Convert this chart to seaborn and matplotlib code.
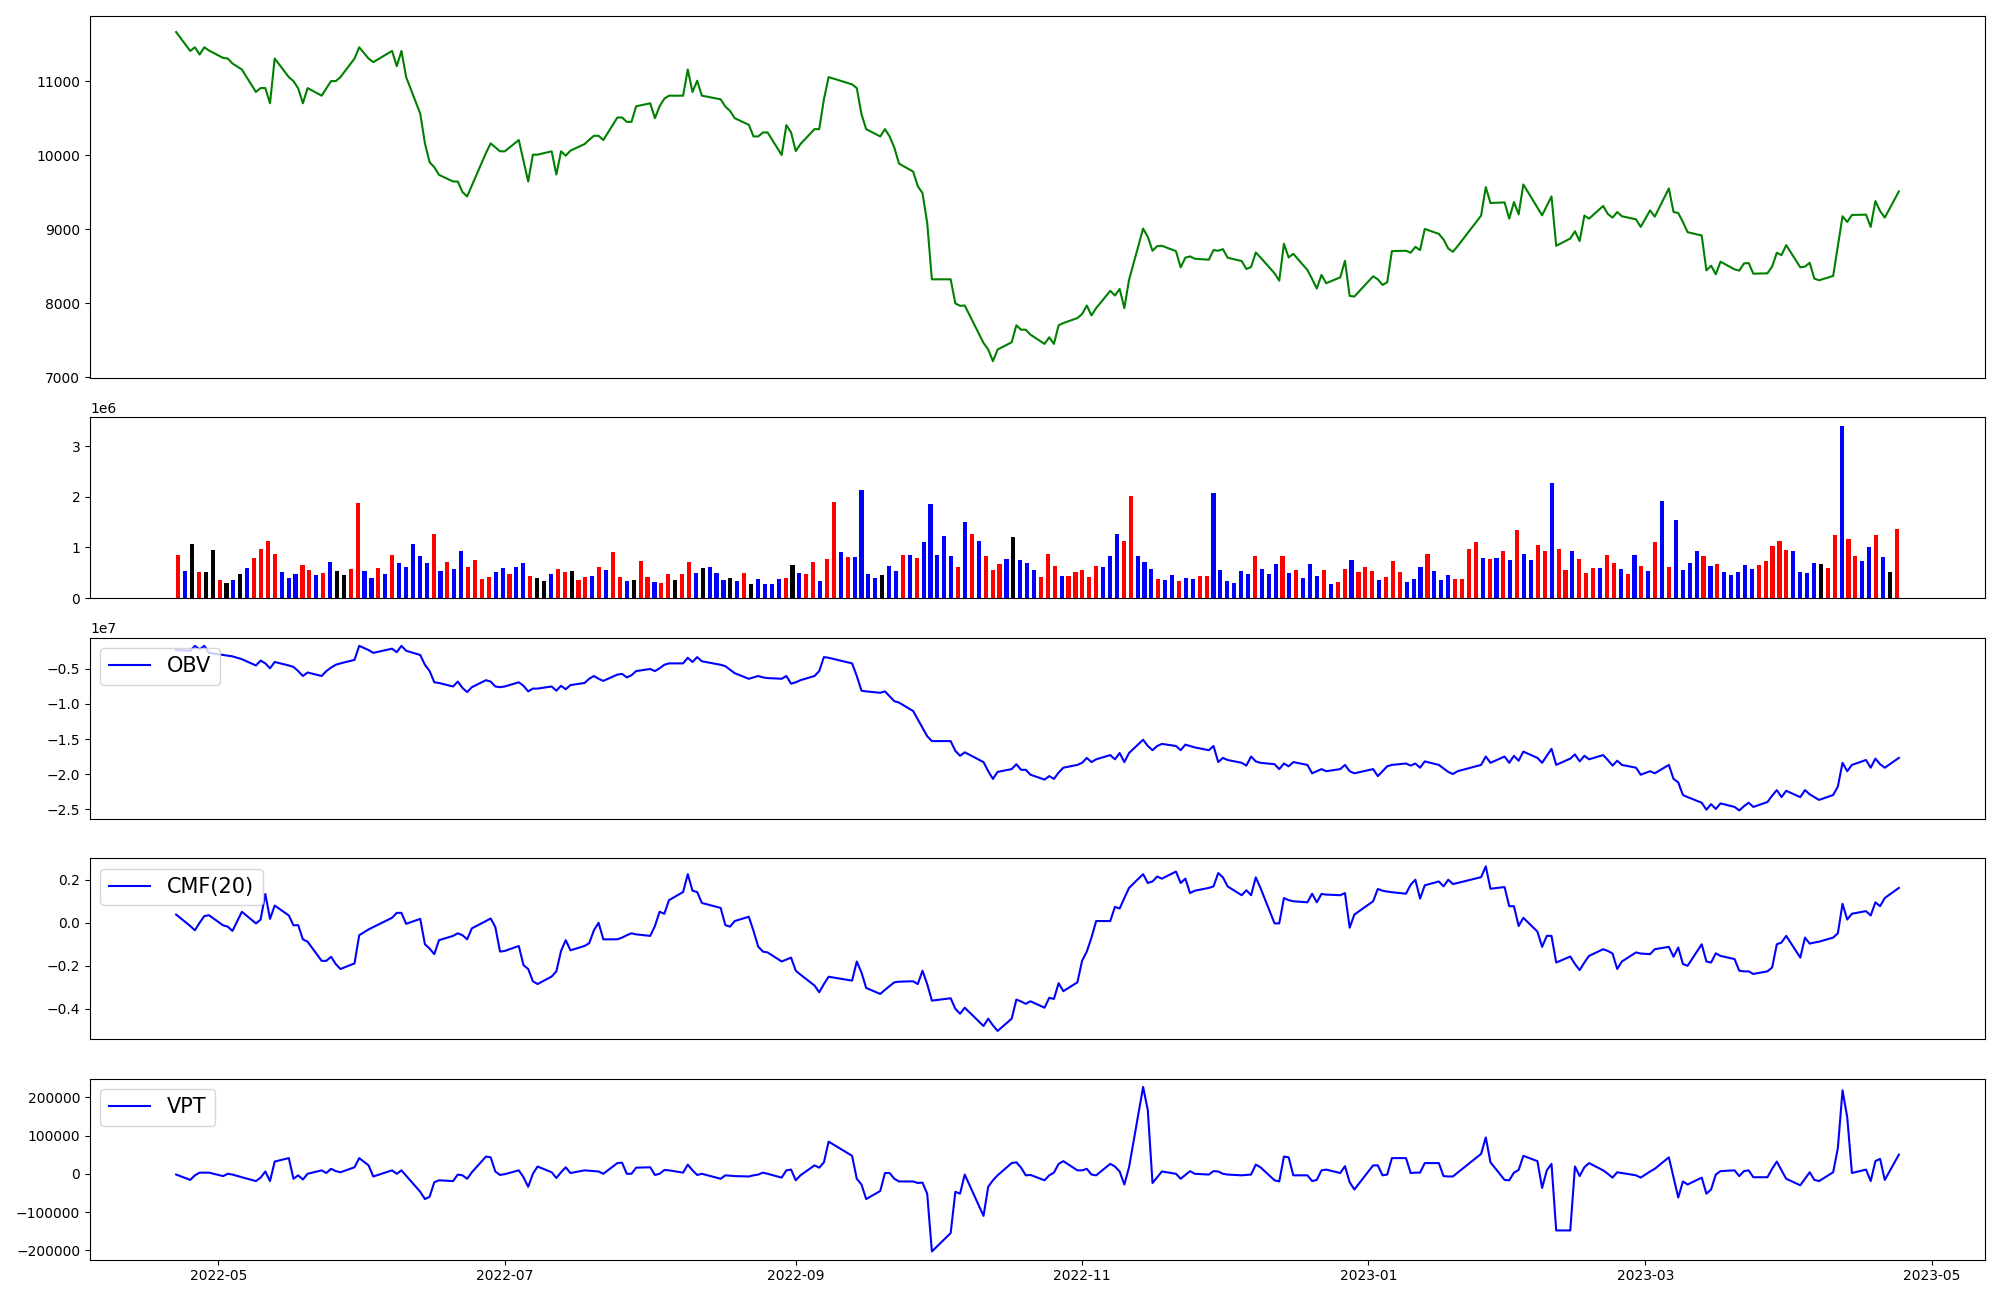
import matplotlib
matplotlib.use("Agg")
import matplotlib.pyplot as plt
import matplotlib.dates as mdates
import seaborn as sns
import pandas as pd
import numpy as np

# KRX trading days from 2022-04-22 to 2023-04-24 (market holidays removed)
holidays = ["2022-05-05", "2022-06-01", "2022-06-06", "2022-08-15", "2022-09-09",
            "2022-09-12", "2022-10-03", "2022-10-10", "2022-12-30", "2023-01-23",
            "2023-01-24", "2023-03-01"]
dates = pd.bdate_range("2022-04-22", "2023-04-24")
dates = dates[~dates.isin(pd.to_datetime(holidays))]

close = [
    11668, 11413, 11462, 11364, 11462, 11418,
    11319, 11310, 11243, 11162, 10858, 10911, 10911, 10705, 11310, 11059, 11005, 10907, 10705, 10911,
    10808, 10907, 11005, 11005, 11059, 11310, 11462,
    11310, 11261, 11413, 11207, 11413, 11059, 10566, 10163, 9908, 9841, 9738, 9648, 9648, 9505,
    9446, 9594, 10033, 10163, 10109, 10056,
    10056, 10208, 9930, 9648, 10011, 10011, 10056, 9742, 10056, 9997, 10065, 10154, 10212, 10266,
    10266, 10208, 10513, 10513, 10454, 10454, 10665,
    10705, 10504, 10665, 10768, 10808, 10808, 11162, 10858, 11010, 10808, 10759, 10660, 10602, 10504,
    10414, 10257, 10257, 10311, 10311, 10006, 10410, 10311,
    10060, 10154, 10356, 10356, 10759, 11059, 10961, 10911, 10557, 10356, 10257, 10356, 10257, 10105,
    9890, 9782, 9585, 9491, 9092, 8326,
    8326, 8000, 7968, 7972, 7466, 7377, 7220, 7377, 7475, 7704, 7645, 7645, 7578, 7453, 7542, 7453,
    7704, 7735, 7802,
    7856, 7972, 7838, 7937, 8170, 8107, 8196, 7937, 8318, 9012, 8900, 8712, 8774, 8779, 8707, 8488,
    8618, 8636, 8604, 8591, 8721, 8712,
    8734, 8618, 8573, 8465, 8492, 8689, 8622, 8407, 8308, 8806, 8622, 8671, 8452, 8331, 8201, 8385,
    8273, 8353, 8577, 8102, 8093,
    8367, 8326, 8250, 8286, 8707, 8712, 8685, 8765, 8721, 9007, 8940, 8864, 8743, 8698, 8774, 9187,
    9572, 9357, 9366, 9146,
    9370, 9204, 9608, 9294, 9191, 9317, 9446, 8779, 8877, 8976, 8842, 9187, 9146, 9317, 9209, 9160,
    9236, 9178, 9137, 9034,
    9258, 9173, 9554, 9236, 9222, 9101, 8963, 8918, 8447, 8510, 8394, 8564, 8461, 8443, 8541, 8546,
    8402, 8407, 8497, 8685, 8653, 8788,
    8488, 8497, 8550, 8335, 8313, 8371, 8770, 9178, 9101, 9196, 9200, 9034, 9384, 9249, 9160, 9514,
]

# daily volume, millions of shares
volume_m = [
    0.86, 0.53, 1.06, 0.51, 0.51, 0.94, 0.35, 0.29, 0.35, 0.47,
    0.59, 0.80, 0.96, 1.12, 0.88, 0.51, 0.39, 0.47, 0.65, 0.55,
    0.45, 0.49, 0.71, 0.53, 0.45, 0.57, 1.88, 0.53, 0.39, 0.59,
    0.47, 0.86, 0.69, 0.61, 1.06, 0.84, 0.69, 1.27, 0.53, 0.71,
    0.57, 0.92, 0.61, 0.76, 0.37, 0.41, 0.51, 0.59, 0.47, 0.61,
    0.69, 0.43, 0.39, 0.33, 0.47, 0.57, 0.51, 0.53, 0.35, 0.41,
    0.43, 0.61, 0.55, 0.90, 0.41, 0.33, 0.35, 0.73, 0.41, 0.31,
    0.29, 0.47, 0.35, 0.47, 0.71, 0.49, 0.59, 0.61, 0.49, 0.35,
    0.39, 0.33, 0.49, 0.27,
    0.37, 0.28, 0.28, 0.37, 0.39, 0.65, 0.49, 0.47,
    0.71, 0.33, 0.77, 1.89, 0.90, 0.81, 0.81, 2.14, 0.47, 0.39,
    0.45, 0.63, 0.53, 0.86, 0.86, 0.79, 1.10, 1.85, 0.86, 1.22,
    0.83, 0.61, 1.51, 1.26, 1.12, 0.84, 0.55, 0.67, 0.77, 1.20,
    0.75, 0.69, 0.55, 0.41, 0.88, 0.63, 0.43, 0.43, 0.51, 0.55,
    0.41, 0.63, 0.61, 0.83, 1.26, 1.12, 2.02, 0.83, 0.71, 0.57,
    0.37, 0.35, 0.45, 0.33, 0.39, 0.37, 0.43, 0.43, 2.08, 0.55,
    0.33, 0.29, 0.53, 0.47, 0.83, 0.57, 0.47, 0.67, 0.84, 0.49,
    0.55, 0.39, 0.67, 0.43,
    0.55, 0.28, 0.31, 0.57, 0.75, 0.51, 0.61, 0.53,
    0.35, 0.41, 0.73, 0.51, 0.31, 0.37, 0.61, 0.88, 0.53, 0.35,
    0.45, 0.37, 0.37, 0.96, 1.10, 0.79, 0.77, 0.79, 0.92, 0.75,
    1.34, 0.88, 0.75, 1.04, 0.92, 2.28, 0.96, 0.55, 0.92, 0.77,
    0.49, 0.59, 0.59, 0.86, 0.69, 0.57, 0.47, 0.86, 0.63, 0.53,
    1.10, 1.91, 0.61, 1.55, 0.55, 0.69, 0.92, 0.84, 0.63, 0.67,
    0.51, 0.45, 0.51, 0.65, 0.57, 0.65, 0.73, 1.02, 1.12, 0.94,
    0.92, 0.51, 0.49, 0.69, 0.67, 0.59, 1.24, 3.40, 1.16, 0.83,
    0.73, 1.00, 1.24, 0.81, 0.51, 1.36,
]

# candle direction per bar (u = up, d = down, f = flat)
candle = [
    "u", "d", "f", "u", "f", "f", "u", "f", "d", "f",
    "d", "u", "u", "u", "u", "d", "d", "d", "u", "u",
    "d", "u", "d", "f", "f", "u", "u", "d", "d", "u",
    "d", "u", "d", "d", "d", "d", "d", "u", "d", "u",
    "d", "d", "u", "u", "u", "u", "d", "d", "u", "d",
    "d", "u", "f", "f", "d", "u", "u", "f", "u", "u",
    "d", "u", "d", "u", "u", "d", "f", "u", "u", "d",
    "u", "u", "f", "u", "u", "d", "f", "d", "d", "d",
    "f", "d", "u", "f",
    "d", "d", "d", "d", "u", "f", "d", "u",
    "u", "d", "u", "u", "d", "u", "d", "d", "d", "d",
    "f", "d", "d", "u", "d", "u", "d", "d", "d", "d",
    "d", "u", "d", "u", "d", "u", "u", "u", "d", "f",
    "d", "d", "d", "u", "u", "u", "d", "u", "u", "u",
    "u", "u", "d", "d", "d", "u", "u", "d", "d", "d",
    "u", "d", "d", "u", "d", "d", "u", "u", "d", "d",
    "d", "d", "d", "d", "u", "d", "d", "d", "u", "d",
    "u", "d", "d", "d",
    "u", "d", "u", "u", "d", "u", "u", "u",
    "d", "u", "u", "u", "d", "d", "d", "u", "d", "d",
    "d", "u", "u", "u", "u", "d", "u", "d", "u", "d",
    "u", "d", "d", "u", "u", "d", "u", "u", "d", "u",
    "u", "u", "d", "u", "u", "d", "u", "d", "u", "d",
    "u", "d", "u", "d", "d", "d", "d", "u", "d", "u",
    "d", "d", "d", "d", "d", "u", "u", "u", "u", "u",
    "d", "d", "d", "d", "f", "u", "u", "d", "u", "u",
    "d", "d", "u", "d", "f", "u",
]

obv_e7 = [
    -0.23, -0.24, -0.17, -0.22, -0.17, -0.27,
    -0.30, -0.31, -0.32, -0.36, -0.45, -0.38, -0.42, -0.49, -0.40, -0.45, -0.47, -0.53, -0.60, -0.55,
    -0.60, -0.53, -0.48, -0.44, -0.42, -0.37, -0.17,
    -0.23, -0.27, -0.21, -0.26, -0.17, -0.24, -0.30, -0.44, -0.53, -0.69, -0.70, -0.75, -0.68, -0.77,
    -0.83, -0.76, -0.66, -0.68, -0.75, -0.76,
    -0.75, -0.69, -0.74, -0.82, -0.78, -0.78, -0.75, -0.81, -0.74, -0.79, -0.73, -0.70, -0.64, -0.60,
    -0.64, -0.67, -0.58, -0.57, -0.62, -0.59, -0.53,
    -0.50, -0.53, -0.49, -0.44, -0.42, -0.42, -0.34, -0.40, -0.33, -0.39, -0.44, -0.46, -0.51, -0.56,
    -0.64, -0.62, -0.60, -0.62, -0.63, -0.64, -0.60, -0.71,
    -0.69, -0.66, -0.60, -0.53, -0.33, -0.34, -0.42, -0.60, -0.81, -0.82, -0.84, -0.82, -0.89, -0.96,
    -0.98, -1.10, -1.22, -1.34, -1.46, -1.53,
    -1.53, -1.67, -1.74, -1.69, -1.83, -1.96, -2.07, -1.97, -1.93, -1.86, -1.94, -1.94, -2.01, -2.08,
    -2.03, -2.07, -1.98, -1.91, -1.87,
    -1.84, -1.77, -1.83, -1.79, -1.73, -1.79, -1.70, -1.83, -1.70, -1.51, -1.60, -1.66, -1.60, -1.57,
    -1.60, -1.66, -1.58, -1.60, -1.62, -1.66, -1.60, -1.83,
    -1.77, -1.80, -1.84, -1.88, -1.75, -1.82, -1.84, -1.86, -1.93, -1.85, -1.89, -1.83, -1.87, -1.99,
    -1.96, -1.93, -1.96, -1.93, -1.87, -1.96, -1.99,
    -1.93, -2.03, -1.96, -1.89, -1.87, -1.85, -1.88, -1.85, -1.91, -1.82, -1.87, -1.92, -1.97, -2.00,
    -1.96, -1.87, -1.75, -1.84, -1.75, -1.84,
    -1.74, -1.81, -1.68, -1.77, -1.84, -1.74, -1.64, -1.87, -1.78, -1.72, -1.82, -1.74, -1.79, -1.73,
    -1.80, -1.88, -1.81, -1.87, -1.91, -2.01,
    -1.96, -1.99, -1.87, -2.07, -2.12, -2.30, -2.33, -2.41, -2.51, -2.43, -2.50, -2.42, -2.47, -2.52,
    -2.46, -2.41, -2.47, -2.40, -2.31, -2.23, -2.33, -2.24,
    -2.33, -2.23, -2.29, -2.33, -2.37, -2.30, -2.18, -1.84, -1.96, -1.87, -1.80, -1.91, -1.78, -1.86,
    -1.91, -1.77,
]

cmf20 = [
    0.038, -0.015, -0.035, 0.000, 0.031, 0.035,
    -0.012, -0.018, -0.038, 0.051, -0.003, 0.015, 0.134, 0.018, 0.080, 0.034, -0.012, -0.011, -0.077,
    -0.088, -0.177, -0.177, -0.158, -0.192, -0.215, -0.189, -0.058,
    -0.031, -0.020, 0.023, 0.046, 0.046, -0.005, 0.018, -0.100, -0.120, -0.146, -0.081, -0.061, -0.049,
    -0.058, -0.077, -0.026, 0.008, 0.020, -0.020, -0.134,
    -0.131, -0.108, -0.197, -0.215, -0.272, -0.285, -0.250, -0.226, -0.131, -0.081, -0.128, -0.108,
    -0.095, -0.035, 0.000, -0.077, -0.077, -0.069, -0.058, -0.049, -0.054,
    -0.061, -0.015, 0.051, 0.042, 0.105, 0.143, 0.226, 0.149, 0.143, 0.092, 0.069, -0.011, -0.018,
    0.008, 0.028, -0.038, -0.111, -0.134, -0.138, -0.180, -0.171, -0.162,
    -0.223, -0.241, -0.292, -0.323, -0.285, -0.251, -0.269, -0.180, -0.231, -0.303, -0.331, -0.312,
    -0.294, -0.277, -0.274, -0.272, -0.285, -0.223, -0.285, -0.362,
    -0.351, -0.400, -0.423, -0.395, -0.480, -0.446, -0.477, -0.503, -0.446, -0.357, -0.366, -0.377,
    -0.365, -0.395, -0.349, -0.354, -0.281, -0.318, -0.277,
    -0.177, -0.134, -0.069, 0.008, 0.008, 0.074, 0.066, 0.115, 0.162, 0.226, 0.185, 0.192, 0.215,
    0.205, 0.238, 0.185, 0.205, 0.138, 0.149, 0.162, 0.169, 0.231,
    0.211, 0.169, 0.128, 0.151, 0.128, 0.211, 0.162, -0.003, -0.003, 0.115, 0.105, 0.100, 0.095,
    0.135, 0.095, 0.134, 0.131, 0.128, 0.138, -0.023, 0.038,
    0.100, 0.157, 0.149, 0.145, 0.142, 0.135, 0.177, 0.200, 0.112, 0.174, 0.192, 0.169, 0.200,
    0.180, 0.185, 0.212, 0.262, 0.158, 0.166, 0.077,
    0.077, -0.015, 0.023, -0.041, -0.112, -0.061, -0.061, -0.185, -0.157, -0.192, -0.220, -0.185,
    -0.154, -0.123, -0.131, -0.143, -0.215, -0.180, -0.138, -0.143,
    -0.146, -0.123, -0.112, -0.158, -0.115, -0.192, -0.200, -0.100, -0.180, -0.185, -0.142, -0.154,
    -0.169, -0.223, -0.226, -0.226, -0.238, -0.226, -0.208, -0.100, -0.092, -0.061,
    -0.162, -0.069, -0.097, -0.092, -0.088, -0.069, -0.049, 0.088, 0.015, 0.042, 0.054, 0.034,
    0.095, 0.077, 0.115, 0.162,
]

# volume price trend, thousands
vpt_k = [
    -2, -16, -4, 3, 3, 3,
    -6, 0, -2, -9, -19, -10, 6, -19, 32, 41, -13, -4, -15, 0, 9, 2, 13, 7, 4, 17, 41,
    22, -7, 9, 0, 9, -5, -47, -66, -60, -22, -17, -19, -2, -4, -13, 4, 45, 43, 6, -3,
    -1, 9, -9, -34, 0, 19, 4, -11, 4, 17, 2, 9, 8, 7, 6, 0, 28, 29, 0, 0, 16,
    17, -3, 0, 10, 9, 3, 24, 9, -3, 0, -13, -4, -5, -6, -7, -4, -2, 3, 0, -10, 9, 11,
    -17, -4, 22, 16, 30, 84, 47, -13, -28, -66, -45, 2, 2, -13, -20, -20, -24, -23, -52, -203,
    -155, -47, -52, -2, -110, -34, -17, -4, 28, 30, 16, -4, -3, -17, -4, 3, 26, 33, 9,
    9, 13, -2, -4, 26, 19, 6, -28, 17, 227, 166, -24, -9, 6, 0, -13, -3, 7, 0, -2, 7, 6,
    0, -2, -4, -3, -2, 24, 17, -17, -20, 45, 43, -4, -4, -19, -16, 9, 11, 2, 20, -22, -41,
    22, 22, -4, -2, 41, 41, 2, 3, 3, 28, 28, -6, -7, -7, 3, 52, 95, 30, -16, -17,
    3, 10, 47, 33, -37, 9, 26, -148, -148, 19, -6, 17, 28, 9, 0, -10, 4, 2, -4, -10,
    6, 13, 43, -9, -62, -20, -28, -10, -52, -41, -2, 7, 9, -6, 7, 9, -9, -9, 13, 32, 9, -13,
    -30, -13, 4, -16, -19, 4, 67, 218, 148, 2, 11, -19, 33, 39, -16, 50,
]

n = len(dates)
df = pd.DataFrame({
    "date": dates,
    "close": close,
    "volume": np.array(volume_m) * 1e6,
    "obv": np.array(obv_e7) * 1e7,
    "cmf": cmf20,
    "vpt": np.array(vpt_k) * 1e3,
})
bar_colors = [{"u": "red", "d": "blue", "f": "black"}[c] for c in candle]

fig = plt.figure(figsize=(20, 13), dpi=100)
gs = fig.add_gridspec(5, 1, height_ratios=[2, 1, 1, 1, 1], left=0.045, right=0.9925,
                      top=0.988, bottom=0.031, hspace=0.182)
ax_price = fig.add_subplot(gs[0])
ax_vol = fig.add_subplot(gs[1])
ax_obv = fig.add_subplot(gs[2], sharex=ax_price)
ax_cmf = fig.add_subplot(gs[3], sharex=ax_price)
ax_vpt = fig.add_subplot(gs[4], sharex=ax_price)

sns.lineplot(data=df, x="date", y="close", ax=ax_price, color="green", linewidth=1.5)

# volume bars sit on a plain day index, not on dates
ax_vol.bar(np.arange(n), df["volume"], color=bar_colors, width=0.6)
ax_vol.set_xticks([])

sns.lineplot(data=df, x="date", y="obv", ax=ax_obv, color="blue", linewidth=1.5, label="OBV")
sns.lineplot(data=df, x="date", y="cmf", ax=ax_cmf, color="blue", linewidth=1.5, label="CMF(20)")
sns.lineplot(data=df, x="date", y="vpt", ax=ax_vpt, color="blue", linewidth=1.5, label="VPT")

for ax in (ax_obv, ax_cmf, ax_vpt):
    ax.legend(loc="upper left", fontsize=15)

for ax in (ax_price, ax_vol, ax_obv, ax_cmf, ax_vpt):
    ax.set_xlabel("")
    ax.set_ylabel("")

for ax in (ax_price, ax_obv, ax_cmf):
    ax.tick_params(axis="x", bottom=False, labelbottom=False)

ax_vpt.xaxis.set_major_locator(mdates.MonthLocator(bymonth=[1, 3, 5, 7, 9, 11]))
ax_vpt.xaxis.set_major_formatter(mdates.DateFormatter("%Y-%m"))

fig.savefig("out.png", dpi=100)
